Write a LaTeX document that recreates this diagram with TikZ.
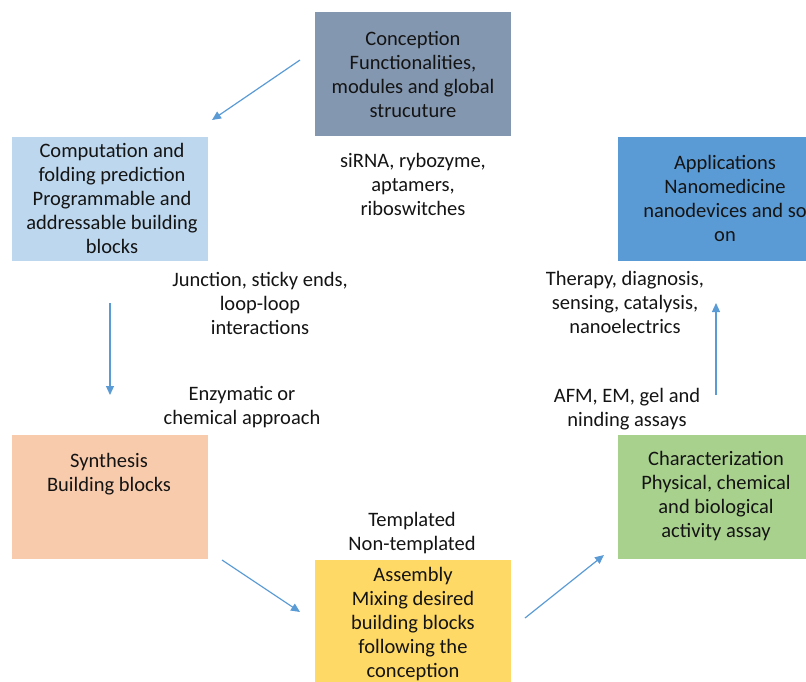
\documentclass[tikz,border=0pt]{standalone}
\usepackage{fontspec}
\setmainfont{Carlito}
\usetikzlibrary{arrows.meta}
\definecolor{concfill}{HTML}{8497B0}
\definecolor{compfill}{HTML}{BDD7EE}
\definecolor{synfill}{HTML}{F8CBAD}
\definecolor{asmfill}{HTML}{FFD966}
\definecolor{charfill}{HTML}{A9D18E}
\definecolor{appfill}{HTML}{5B9BD5}
\definecolor{flow}{HTML}{5B9BD5}
\definecolor{ink}{HTML}{141414}
\begin{document}
\begin{tikzpicture}[x=1pt,y=-1pt,
  box/.style={draw=none, fill=#1, minimum width=196pt, minimum height=124pt,
    inner sep=0pt, anchor=north west},
  txt/.style={align=center, inner sep=0pt, text=ink,
    font=\fontsize{20.5}{24}\selectfont},
  flowarrow/.style={draw=flow, line width=1.2pt,
    -{Triangle[length=9pt,width=8pt]}}]
\useasboundingbox (0,0) rectangle (806,681);
\clip (0,0) rectangle (806,681);

% stage boxes
\node[box=concfill] (conception) at (315,12) {};
\node[box=compfill] (computation) at (12,137) {};
\node[box=synfill] (synthesis) at (12,435) {};
\node[box=asmfill] (assembly) at (315,560) {};
\node[box=charfill] (characterization) at (618,435) {};
\node[box=appfill] (applications) at (618,137) {};

% box texts
\node[txt] (conceptiontext) at (413,74) {Conception\\Functionalities,\\modules and global\\strucuture};
\node[txt] (computationtext) at (112,198) {Computation and\\folding prediction\\Programmable and\\addressable building\\blocks};
\node[txt] (synthesistext) at (109,474.5) {Synthesis\\Building blocks};
\node[txt] (assemblytext) at (413,624) {Assembly\\Mixing desired\\building blocks\\following the\\conception};
\node[txt] (characterizationtext) at (716,496.5) {Characterization\\Physical, chemical\\and biological\\activity assay};
\node[txt] (applicationstext) at (725,198.5) {Applications\\Nanomedicine\\nanodevices and so\\on};

% step annotations
\node[txt] (examples) at (413,184) {siRNA, rybozyme,\\aptamers,\\riboswitches};
\node[txt] (junction) at (260,303) {Junction, sticky ends,\\loop-loop\\interactions};
\node[txt] (enzymatic) at (242,407.5) {Enzymatic or\\chemical approach};
\node[txt] (templated) at (412,533.5) {Templated\\Non-templated};
\node[txt] (afm) at (627,409.5) {AFM, EM, gel and\\ninding assays};
\node[txt] (therapy) at (625,302) {Therapy, diagnosis,\\sensing, catalysis,\\nanoelectrics};

% arrow end points
\coordinate (a1s) at (300,60);   \coordinate (a1e) at (212,120);
\coordinate (a2s) at (110,303);  \coordinate (a2e) at (110,395);
\coordinate (a3s) at (222,560);  \coordinate (a3e) at (300,612);
\coordinate (a4s) at (525,618);  \coordinate (a4e) at (604,555);
\coordinate (a5s) at (716,395);  \coordinate (a5e) at (716,303);

\draw[flowarrow] (a1s) -- (a1e);
\draw[flowarrow] (a2s) -- (a2e);
\draw[flowarrow] (a3s) -- (a3e);
\draw[flowarrow] (a4s) -- (a4e);
\draw[flowarrow] (a5s) -- (a5e);
\end{tikzpicture}
\end{document}
